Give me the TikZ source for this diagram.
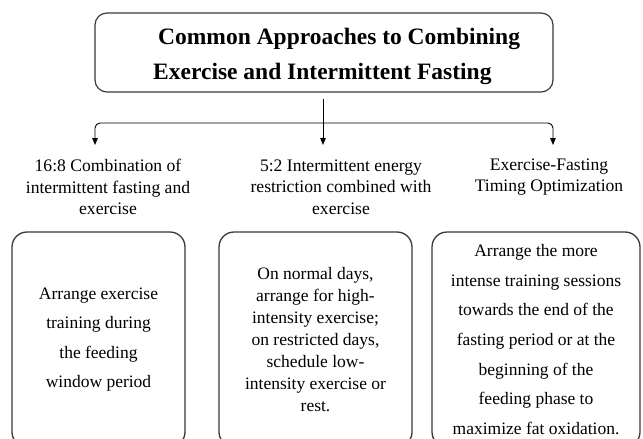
\documentclass[tikz,border=0pt]{standalone}
\usepackage{fontspec}
\setmainfont{LiberationSerif}[Extension=.ttf, UprightFont=*-Regular, BoldFont=*-Bold, ItalicFont=*-Italic, BoldItalicFont=*-BoldItalic]
\usetikzlibrary{arrows.meta}
\definecolor{boxgray}{HTML}{3A3A3A}
\begin{document}
\begin{tikzpicture}[x=1pt,y=-1pt,
  titlebox/.style={draw=boxgray, line width=1.2pt, rounded corners=12pt,
    minimum width=458pt, minimum height=79pt, inner sep=0pt},
  titletext/.style={font=\fontsize{23.5}{35}\selectfont\bfseries, align=left, inner sep=0pt},
  approach/.style={font=\fontsize{17.6}{21.5}\selectfont, align=center, inner sep=0pt},
  detailbox/.style={draw=boxgray, line width=1.3pt, rounded corners=15pt,
    minimum height=215pt, inner sep=0pt, align=center},
  loose/.style={font=\fontsize{17.5}{29.6}\selectfont},
  tight/.style={font=\fontsize{17.5}{22}\selectfont},
  conn/.style={line width=0.9pt, black, rounded corners=5pt},
  tip/.tip={Triangle[length=7pt,width=5.5pt]}]
\clip (0,0) rectangle (643,439);
\fill[white] (0,0) rectangle (643,439);

% heading
\node[titlebox] (top) at (324,52.5) {};
\node[titletext, anchor=west] (ttl) at (153,56) {\hspace*{5pt}Common Approaches to Combining\\Exercise and Intermittent Fasting};

% branch ends
\coordinate (a1) at (95,145);
\coordinate (a2) at (323,145);
\coordinate (a3) at (553,145);
\coordinate (junction) at (323,123);

\draw[conn, tip-tip] (a1) |- (junction) -| (a3);
\draw[conn, -tip, shorten <=6pt] (top.south -| a2) -- (a2);

% approach names
\node[approach] (n1) at (108,187) {16:8 Combination of\\intermittent fasting and\\exercise};
\node[approach] (n2) at (341,187) {5:2 Intermittent energy\\restriction combined with\\exercise};
\node[approach] (n3) at (549,177) {Exercise-Fasting\\Timing Optimization};

% details
\node[detailbox, loose, minimum width=173pt] (d1) at (98.5,339.5)
  {Arrange exercise\\training during\\the feeding\\window period};
\node[detailbox, tight, minimum width=193pt] (d2) at (315.5,339.5)
  {On normal days,\\arrange for high-\\intensity exercise;\\on restricted days,\\schedule low-\\intensity exercise or\\rest.};
\node[detailbox, loose, minimum width=208pt] (d3) at (536,339.5)
  {Arrange the more\\intense training sessions\\towards the end of the\\fasting period or at the\\beginning of the\\feeding phase to\\maximize fat oxidation.};
\end{tikzpicture}
\end{document}
